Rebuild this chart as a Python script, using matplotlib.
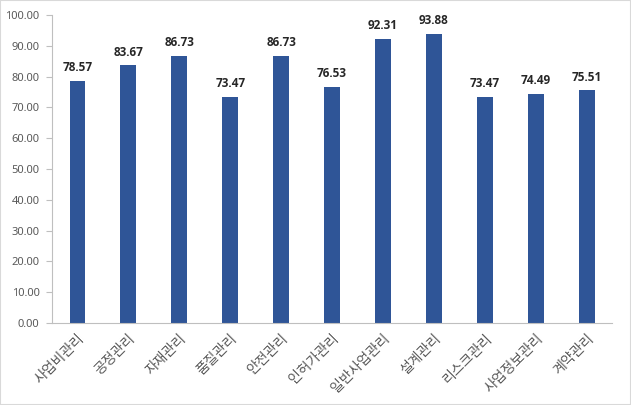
import matplotlib.pyplot as plt
import numpy as np

plt.rcParams['font.family'] = ['Noto Sans', 'Noto Sans CJK KR', 'DejaVu Sans']

categories = ['사업비관리', '공정관리', '자재관리', '품질관리', '안전관리', '인허가관리',
              '일반사업관리', '설계관리', '리스크관리', '사업정보관리', '계약관리']
values = [78.57, 83.67, 86.73, 73.47, 86.73, 76.53, 92.31, 93.88, 73.47, 74.49, 75.51]
yticks = np.arange(0, 101, 10)

fig = plt.figure(figsize=(6.31, 4.05), dpi=100)
fig.patches.append(plt.Rectangle((0, 0), 1, 1, transform=fig.transFigure,
                                 fill=False, edgecolor='#d9d9d9', lw=1.5))
ax = fig.add_axes([0.0824, 0.2025, 0.8876, 0.7605])

x = np.arange(len(categories))
bars = ax.bar(x, values, width=0.31, color='#2f5597')
for xi, v in zip(x, values):
    ax.text(xi, v + 2.2, f'{v:.2f}', ha='center', va='bottom', fontsize=8.5,
            fontweight='bold', color='#262626', family=['Open Sans', 'DejaVu Sans'])

ax.set_xlim(-0.5, len(categories) - 0.5)
ax.set_ylim(0, 100)
ax.set_yticks(yticks)
ax.set_yticklabels([f'{t:.2f}' for t in yticks], fontsize=8, color='#595959')
ax.set_xticks(x)
ax.set_xticklabels(categories, rotation=45, ha='right', rotation_mode='anchor',
                   fontsize=10, color='#595959')
ax.tick_params(axis='x', length=0, pad=6)
ax.tick_params(axis='y', length=4, color='#bfbfbf', width=0.8, pad=5)
for s in ['top', 'right']:
    ax.spines[s].set_visible(False)
ax.spines['left'].set_color('#bfbfbf')
ax.spines['bottom'].set_color('#bfbfbf')

fig.savefig('out.png', dpi=100)
